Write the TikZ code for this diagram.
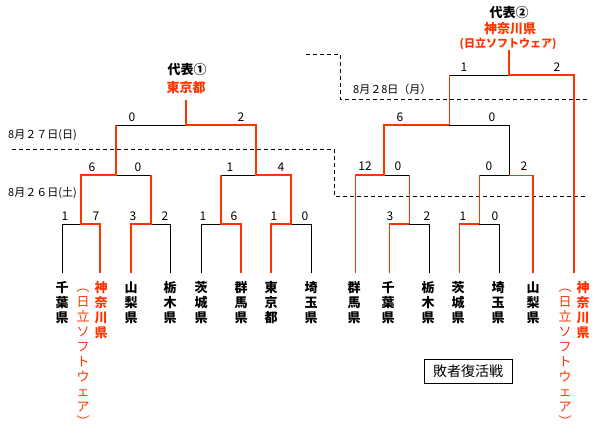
\documentclass[tikz,border=0pt]{standalone}
\usepackage{fontspec}
\setmainfont{Noto Sans CJK JP}
\definecolor{win}{RGB}{255,51,0}
\tikzset{
  bk/.style={draw=black,line width=1pt},
  rd/.style={draw=win,line width=2pt,line join=miter},
  rdt/.style={draw=win,line width=1pt},
  dsh/.style={draw=black,line width=1pt,dash pattern=on 4pt off 3pt},
  leaf/.style={anchor=north,inner sep=0pt,align=center,font=\bfseries\fontsize{13}{15}\selectfont},
  leafsub/.style={anchor=north,inner sep=0pt,align=center,font=\fontsize{13}{15}\selectfont},
  score/.style={inner sep=0pt,font=\fontsize{12}{12}\selectfont},
  datelbl/.style={anchor=west,inner sep=0pt,font=\fontsize{11}{11}\selectfont},
  title/.style={inner sep=0pt,font=\bfseries\fontsize{13}{13}\selectfont},
}
\begin{document}
\begin{tikzpicture}[x=1pt,y=-1pt]
\useasboundingbox (0,0) rectangle (600,432);

% ---------- left bracket coordinates ----------
\coordinate (L1) at (62,273);
\coordinate (L2) at (100,273);
\coordinate (L3) at (131,273);
\coordinate (L4) at (170,273);
\coordinate (L5) at (201,273);
\coordinate (L6) at (241,273);
\coordinate (L7) at (271,273);
\coordinate (L8) at (311,273);
\coordinate (m1) at (81,224);
\coordinate (m2) at (151,224);
\coordinate (m3) at (221,224);
\coordinate (m4) at (291,224);
\coordinate (n1) at (116,175);
\coordinate (n2) at (256,175);
\coordinate (f) at (186,125);
\coordinate (t) at (186,100);

% ---------- right bracket coordinates ----------
\coordinate (R1) at (355,273);
\coordinate (R2) at (389,273);
\coordinate (R3) at (429,273);
\coordinate (R4) at (459,273);
\coordinate (R5) at (499,273);
\coordinate (R6) at (533,273);
\coordinate (R7) at (574,273);
\coordinate (p1) at (409,224);
\coordinate (p2) at (479,224);
\coordinate (q1) at (384,175);
\coordinate (q2) at (509,175);
\coordinate (s) at (449,125);
\coordinate (g) at (509,75);
\coordinate (gt) at (509,50);

% ---------- dashed day separators ----------
\draw[dsh] (306,54) -- (340,54) -- (340,99) -- (587,99);
\draw[dsh] (12,149) -- (334,149) -- (334,196) -- (587,196);

% ---------- black (losing) lines, left ----------
\draw[bk] (L1) |- (m1);
\draw[bk] (L4) |- (m2);
\draw[bk] (L5) |- (m3);
\draw[bk] (L8) |- (m4);
\draw[bk] (m2 |- n1) -- (n1);
\draw[bk] (m3 |- n2) -- (n2);
\draw[bk] (n1 |- f) -- (f);

% ---------- black (losing) lines, right ----------
\draw[bk] (R3) |- (p1);
\draw[bk] (R5) |- (p2);
\draw[bk] (p1 |- q1) -- (q1);
\draw[bk] (p2 |- q2) -- (q2);
\draw[bk] (q2) -- (q2 |- s) -- (s);
\draw[bk] (s |- g) -- (g);

% ---------- red (winning) lines, left ----------
\draw[rd] (L2) |- (m1) |- (n1) -- (n1 |- f);
\draw[rd] (L3) |- (m2) -- (m2 |- n1);
\draw[rd] (L6) |- (m3) -- (m3 |- n2);
\draw[rd] (L7) |- (m4) |- (n2) |- (f) -- (t);

% ---------- red (winning) lines, right ----------
\draw[rdt] (R1) -- (R1 |- q1);
\draw[rd] (R1 |- q1) -- (q1) -- (q1 |- s) -- (s);
\draw[rdt] (s) -- (s |- g);
\draw[rdt] (R2) -- (R2 |- p1);
\draw[rd] (R2 |- p1) -- (p1);
\draw[rdt] (p1) -- (p1 |- q1);
\draw[rdt] (R4) -- (R4 |- p2);
\draw[rd] (R4 |- p2) -- (p2);
\draw[rdt] (p2) -- (p2 |- q2);
\draw[rd] (R6) -- (R6 |- q2);
\draw[rdt] (R6 |- q2) -- (q2);
\draw[rd] (R7) |- (g) -- (gt);

% ---------- scores, left ----------
\node[score] (a1) at (65,216) {1};
\node[score] (a2) at (96,216) {7};
\node[score] (a3) at (133,216) {3};
\node[score] (a4) at (165,216) {2};
\node[score] (a5) at (203,216) {1};
\node[score] (a6) at (234,216) {6};
\node[score] (a7) at (274,216) {1};
\node[score] (a8) at (305,216) {0};
\node[score] (b1) at (92,167) {6};
\node[score] (b2) at (138,167) {0};
\node[score] (b3) at (230,167) {1};
\node[score] (b4) at (281,167) {4};
\node[score] (c1) at (132,117) {0};
\node[score] (c2) at (241,117) {2};

% ---------- scores, right ----------
\node[score] (d1) at (390,216) {3};
\node[score] (d2) at (427,216) {2};
\node[score] (d3) at (463,216) {1};
\node[score] (d4) at (495,216) {0};
\node[score] (e1) at (365,166) {12};
\node[score] (e2) at (398,166) {0};
\node[score] (e3) at (489,166) {0};
\node[score] (e4) at (524,166) {2};
\node[score] (h1) at (400,117) {6};
\node[score] (h2) at (492,117) {0};
\node[score] (k1) at (464,67) {1};
\node[score] (k2) at (557,67) {2};

% ---------- dates ----------
\node[datelbl] (d27) at (8,135) {8月２７日(日)};
\node[datelbl] (d26) at (8,193) {8月２６日(土)};
\node[datelbl] (d28) at (353,89) {8月２8日（月）};

% ---------- champions ----------
\node[title] (rep1) at (187,70) {代表①};
\node[title,text=win] (rep1w) at (186,88) {東京都};
\node[title] (rep2) at (509,13) {代表②};
\node[title,text=win] (rep2w) at (510,29) {神奈川県};
\node[title,text=win,font=\bfseries\fontsize{11}{11}\selectfont] (rep2s) at (508,44) {(日立ソフトウェア)};

% ---------- leaves, left ----------
\node[leaf] (t1) at (62,281.5) {千\\葉\\県};
\node[leaf,text=win] (t2) at (101,281.5) {神\\奈\\川\\県};
\node[leafsub,text=win] (t2s) at (83,281.5) {\vphantom{日}︵\\日\\立\\ソ\\フ\\ト\\ウ\\ェ\\ア\\\vphantom{日}︶};
\node[leaf] (t3) at (131,281.5) {山\\梨\\県};
\node[leaf] (t4) at (170,281.5) {栃\\木\\県};
\node[leaf] (t5) at (201,281.5) {茨\\城\\県};
\node[leaf] (t6) at (241,281.5) {群\\馬\\県};
\node[leaf] (t7) at (271,281.5) {東\\京\\都};
\node[leaf] (t8) at (311,281.5) {埼\\玉\\県};

% ---------- leaves, right ----------
\node[leaf] (u1) at (354,281.5) {群\\馬\\県};
\node[leaf] (u2) at (388,281.5) {千\\葉\\県};
\node[leaf] (u3) at (428,281.5) {栃\\木\\県};
\node[leaf] (u4) at (458,281.5) {茨\\城\\県};
\node[leaf] (u5) at (498,281.5) {埼\\玉\\県};
\node[leaf] (u6) at (533,281.5) {山\\梨\\県};
\node[leaf,text=win] (u7) at (583,281.5) {神\\奈\\川\\県};
\node[leafsub,text=win] (u7s) at (565,281.5) {\vphantom{日}︵\\日\\立\\ソ\\フ\\ト\\ウ\\ェ\\ア\\\vphantom{日}︶};

% ---------- repechage box ----------
\node[draw,line width=1pt,minimum width=88pt,minimum height=24pt,inner sep=0pt,font=\fontsize{14}{14}\selectfont] (fb) at (468,371) {敗者復活戦};
\end{tikzpicture}
\end{document}
